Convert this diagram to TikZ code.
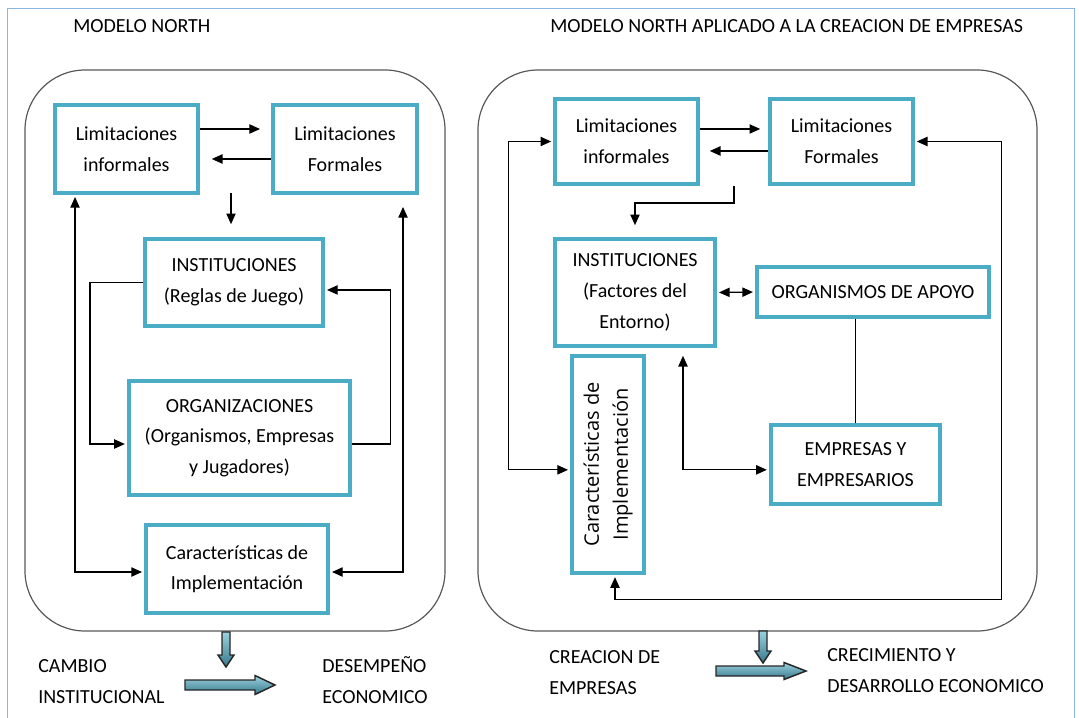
\documentclass[tikz,border=0pt]{standalone}
\usepackage{fontspec}
\setmainfont{Carlito}
\newfontfamily\fuentevertical{Open Sans}
\usetikzlibrary{arrows.meta}
\definecolor{azulcaja}{RGB}{75,172,198}
\definecolor{marcoazul}{RGB}{141,179,226}
\definecolor{grisborde}{RGB}{89,89,89}

\begin{document}
\begin{tikzpicture}[x=0.75pt,y=-0.75pt,
		caja/.style={draw=azulcaja, line width=3pt, fill=white, align=center, inner sep=0pt, font=\fontsize{15}{23}\selectfont},
		flecha/.style={-{Triangle[length=8pt,width=7pt]}, line width=0.9pt, shorten >=1.5pt},
		flechados/.style={{Triangle[length=8pt,width=7pt]}-{Triangle[length=8pt,width=7pt]}, line width=0.9pt, shorten >=1.5pt, shorten <=1.5pt},
		linea/.style={line width=0.9pt},
		marcoredondo/.style={draw=grisborde, line width=0.9pt, rounded corners=45pt},
		gorda/.style={draw=black!85, line width=1.1pt, top color=azulcaja!55!white, bottom color=azulcaja!70!black},
		rotulo/.style={anchor=base west, align=left, inner sep=0pt, font=\fontsize{15}{23}\selectfont}]
		\useasboundingbox (0,0) rectangle (1079,718);
		\draw[marcoazul, line width=0.75pt] (7,720) -- (7,8) -- (1074,8) -- (1074,720);

		% modelo north
		\node[rotulo] (titulo1) at (73,32) {MODELO NORTH};
		\draw[marcoredondo] (25,70) rectangle (445,631);
		\node[caja, minimum width=107pt, minimum height=66pt] (limInf) at (126.5,149) {Limitaciones\\informales};
		\node[caja, minimum width=108pt, minimum height=66pt] (limFor) at (345,149) {Limitaciones\\Formales};
		\node[caja, minimum width=133.5pt, minimum height=65pt] (inst) at (234,282.5) {INSTITUCIONES\\(Reglas de Juego)};
		\node[caja, minimum width=166pt, minimum height=85.5pt] (org) at (239.5,438) {ORGANIZACIONES\\(Organismos, Empresas\\y Jugadores)};
		\node[caja, minimum width=136.5pt, minimum height=66pt] (car) at (237,569) {Características de\\Implementación};
		\coordinate (bajada) at (231,193);

		\draw[flecha, shorten >=8.25pt] ([yshift=15pt]limInf.east) -- ([yshift=15pt]limFor.west);
		\draw[flecha, shorten >=9pt] ([yshift=-7.5pt]limFor.west) -- ([yshift=-7.5pt]limInf.east);
		\draw[flecha, shorten >=9.75pt] (bajada) -- (bajada |- inst.north);
		\draw[flecha] (inst.west) -- ++(-53,0) |- ([yshift=-4.5pt]org.west);
		\draw[flecha] ([yshift=-4.5pt]org.east) -- ++(38,0) |- ([yshift=-5.6pt]inst.east);
		\draw[flechados] ([xshift=-38.6pt]limInf.south) |- ([yshift=-2.25pt]car.west);
		\draw[flechados, shorten <=9pt] ([xshift=43.5pt]limFor.south) |- ([yshift=-2.25pt]car.east);

		\draw[gorda] (222,632) -- (230,632) -- (230,655) -- (234,655) -- (226,667) -- (218,655) -- (222,655) -- cycle;
		\draw[gorda] (185,680) -- (255,680) -- (255,675.5) -- (275,685) -- (255,694.5) -- (255,690) -- (185,690) -- cycle;
		\node[rotulo] (cambio) at (38,703.5) {CAMBIO\\INSTITUCIONAL};
		\node[rotulo] (desempeno) at (322,703.5) {DESEMPEÑO\\ECONOMICO};

		% modelo north aplicado
		\node[rotulo] (titulo2) at (550,32) {MODELO NORTH APLICADO A LA CREACION DE EMPRESAS};
		\draw[marcoredondo] (478,70) rectangle (1037,631);
		\node[caja, minimum width=107pt, minimum height=64pt] (limInfR) at (626.5,141.5) {Limitaciones\\informales};
		\node[caja, minimum width=107pt, minimum height=64pt] (limForR) at (841.5,141.5) {Limitaciones\\Formales};
		\node[caja, minimum width=120pt, minimum height=80pt] (instR) at (635,292.5) {INSTITUCIONES\\(Factores del\\Entorno)};
		\node[caja, minimum width=174pt, minimum height=37.5pt] (apoyo) at (873,292) {ORGANISMOS DE APOYO};
		\node[caja, minimum width=127pt, minimum height=59pt] (empr) at (855.5,464.5) {EMPRESAS Y\\EMPRESARIOS};
		\node[caja, rotate=90, minimum width=163pt, minimum height=54pt, font=\fuentevertical\fontsize{15}{21.75}\selectfont] (carR) at (608,464.5) {Características de\\Implementación};
		\coordinate (codo) at (734,186);

		\draw[flecha, shorten >=6pt] ([yshift=9.4pt]limInfR.east) -- ([yshift=9.4pt]limForR.west);
		\draw[flecha, shorten >=7.5pt] ([yshift=-7.1pt]limForR.west) -- ([yshift=-7.1pt]limInfR.east);
		\draw[flecha, shorten >=9pt] (codo) -- ++(0,17) -| (instR.north);
		\draw[flechados] (instR.east) -- (apoyo.west);
		\draw[linea] (empr.north) -- (empr.north |- apoyo.south);
		\draw[flechados] (limInfR.west) -- ++(-45,0) |- ([yshift=-4pt]carR.north);
		\draw[flechados, shorten <=6pt] ([xshift=36pt]instR.south) |- ([yshift=-4pt]empr.west);
		\draw[flechados] ([xshift=5.25pt]carR.west) -- ++(0,24) -| ([xshift=65.25pt]limForR.east) -- (limForR.east);

		\draw[gorda] (759,631) -- (767,631) -- (767,651) -- (771,651) -- (763,663) -- (755,651) -- (759,651) -- cycle;
		\draw[gorda] (716,666) -- (784,666) -- (784,662.5) -- (806,671) -- (784,679.5) -- (784,676) -- (716,676) -- cycle;
		\node[rotulo] (creacion) at (549,694.5) {CREACION DE\\EMPRESAS};
		\node[rotulo] (crecimiento) at (827,692.5) {CRECIMIENTO Y\\DESARROLLO ECONOMICO};
	\end{tikzpicture}
\end{document}
